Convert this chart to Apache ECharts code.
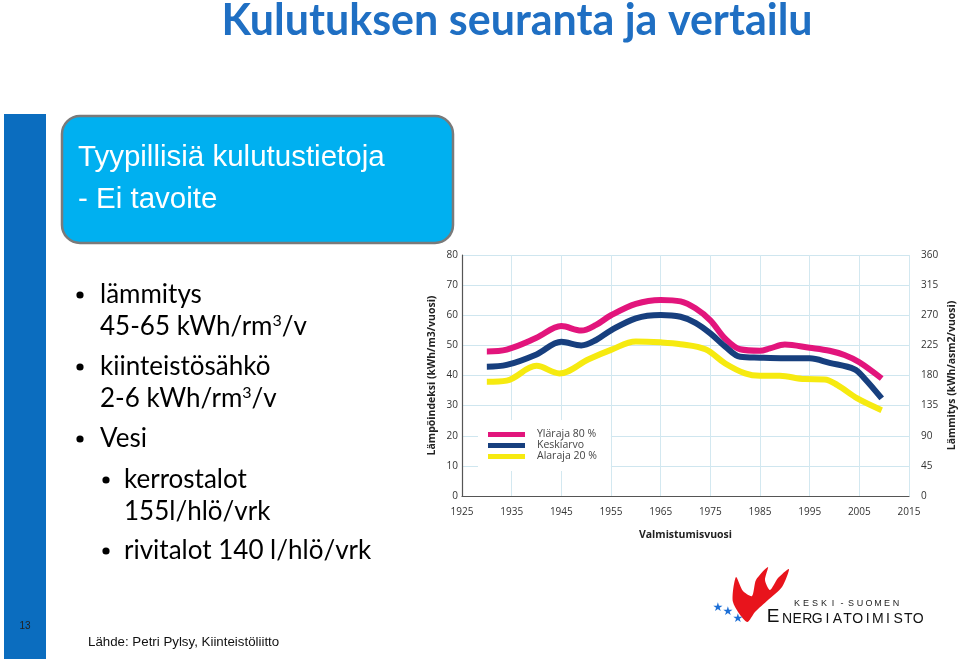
<!DOCTYPE html>
<html>
<head>
<meta charset="utf-8">
<script src="https://cdn.jsdelivr.net/npm/echarts@6/dist/echarts.min.js"></script>
<style>
html,body{margin:0;padding:0;background:#fff;}
#c{width:959px;height:659px;}
</style>
</head>
<body>
<div id="c"></div>
<script>
// ---- data ----
const seriesNames = ['Yläraja 80 %', 'Keskiarvo', 'Alaraja 20 %'];
const upperYears = [1930, 1934, 1940, 1945, 1949, 1952, 1955, 1960, 1965, 1969, 1972, 1975, 1978, 1981, 1985, 1987, 1990, 1995, 1999, 2002, 2005, 2009.5];
const upperVals  = [48.0, 48.6, 52.5, 56.4, 54.9, 56.8, 60.0, 63.8, 65.1, 64.6, 62.3, 58.3, 52.2, 48.7, 48.2, 49.0, 50.3, 49.2, 48.2, 46.8, 44.4, 39.0];
const meanYears  = [1930, 1934, 1940, 1945, 1949, 1952, 1955, 1960, 1965, 1969, 1972, 1975, 1978, 1981, 1985, 1990, 1995, 1999, 2004, 2006, 2009.5];
const meanVals   = [42.9, 43.5, 47.0, 51.2, 50.0, 51.8, 55.0, 59.0, 60.1, 59.5, 57.5, 54.0, 49.6, 46.2, 45.9, 45.7, 45.7, 44.2, 42.1, 39.1, 32.4];
const lowerYears = [1930, 1934, 1940, 1944.6, 1950.5, 1955, 1960, 1965, 1969, 1974, 1978, 1982, 1985, 1989, 1994, 1998, 2000.6, 2004.6, 2009.5];
const lowerVals  = [37.9, 38.3, 43.2, 40.7, 45.4, 48.5, 51.3, 51.0, 50.4, 48.7, 44.0, 40.7, 39.9, 39.9, 38.8, 38.7, 36.8, 32.4, 28.5];
const leftAxisRange  = [0, 80, 10];
const rightAxisRange = [0, 360, 45];
const xAxisRange     = [1925, 2015, 10];

const zip = (xs, ys) => xs.map((x, i) => [x, ys[i]]);
const colors = ['#e2157c', '#173f7e', '#f6ea10'];

const chart = echarts.init(document.getElementById('c'), null, {renderer: 'canvas'});

const tickFont = {fontFamily: 'Open Sans', fontSize: 10, color: '#333'};
const nameFont = {fontFamily: 'Open Sans', fontSize: 10.5, fontWeight: 'bold', color: '#222'};

// logo letters
const logoGraphics = [];
const keski = 'KESKI-SUOMEN';
for (let i = 0; i < keski.length; i++) {
  logoGraphics.push({type: 'text', x: 797 + i * 9.0, y: 604,
    style: {text: keski[i], fill: '#222', font: '9px "Liberation Sans"', textAlign: 'center', textVerticalAlign: 'middle'}});
}
const energ = 'NERGIATOIMISTO';
logoGraphics.push({type: 'text', x: 773, y: 617,
  style: {text: 'E', fill: '#111', font: '19px "Liberation Sans"', textAlign: 'center', textVerticalAlign: 'middle'}});
for (let i = 0; i < energ.length; i++) {
  logoGraphics.push({type: 'text', x: 787 + i * 10.1, y: 619,
    style: {text: energ[i], fill: '#111', font: '14px "Liberation Sans"', textAlign: 'center', textVerticalAlign: 'middle'}});
}

const bulletFont = '26px Lato';
const rich = {
  a: {fontFamily: 'Lato', fontSize: 26, fill: '#000', lineHeight: 29},
  s: {fontFamily: 'Lato', fontSize: 16, fill: '#000', verticalAlign: 'top', lineHeight: 16}
};
function btext(x, y, txt) {
  return {type: 'text', x: x, y: y, style: {text: txt, fill: '#000', font: bulletFont, textAlign: 'left', textVerticalAlign: 'middle'}};
}
function brich(x, y, txt) {
  return {type: 'text', x: x, y: y, style: {text: txt, rich: rich, textAlign: 'left', textVerticalAlign: 'middle'}};
}
function dot(x, y) {
  return {type: 'circle', shape: {cx: x, cy: y, r: 3.6}, style: {fill: '#000'}};
}

const option = {
  backgroundColor: '#fff',
  animation: false,
  grid: {left: 462, right: 47, top: 255, bottom: 163, containLabel: false},
  legend: {
    data: seriesNames, orient: 'vertical', left: 478, top: 420,
    icon: 'rect', itemWidth: 37, itemHeight: 5, itemGap: 0,
    backgroundColor: '#fff', padding: [9, 14, 9, 10],
    textStyle: {fontFamily: 'Open Sans', fontSize: 10.5, lineHeight: 11, color: '#444', padding: [0, 0, 0, 7]}
  },
  xAxis: {
    type: 'value', min: xAxisRange[0], max: xAxisRange[1], interval: xAxisRange[2],
    name: 'Valmistumisvuosi', nameLocation: 'middle', nameGap: 34, nameTextStyle: nameFont,
    axisLine: {show: true, lineStyle: {color: '#555', width: 1.2}},
    axisTick: {show: false},
    axisLabel: Object.assign({margin: 11, formatter: v => String(v)}, tickFont),
    splitLine: {show: true, lineStyle: {color: '#d3e8f0', width: 1}}
  },
  yAxis: [
    {
      type: 'value', min: leftAxisRange[0], max: leftAxisRange[1], interval: leftAxisRange[2], position: 'left',
      name: 'Lämpöindeksi (kWh/m3/vuosi)', nameLocation: 'middle', nameGap: 24, nameRotate: 90, nameTextStyle: nameFont,
      axisLine: {show: true, lineStyle: {color: '#555', width: 1.2}},
      axisTick: {show: false},
      axisLabel: Object.assign({margin: 4}, tickFont),
      splitLine: {show: true, lineStyle: {color: '#cfe6ef', width: 1.2}}
    },
    {
      type: 'value', min: rightAxisRange[0], max: rightAxisRange[1], interval: rightAxisRange[2], position: 'right',
      name: 'Lämmitys (kWh/asm2/vuosi)', nameLocation: 'middle', nameGap: 38, nameRotate: 90, nameTextStyle: nameFont,
      axisLine: {show: false}, axisTick: {show: false},
      axisLabel: Object.assign({margin: 12}, tickFont),
      splitLine: {show: false}
    }
  ],
  series: [
    {name: seriesNames[0], type: 'line', smooth: 0.35, showSymbol: false, yAxisIndex: 0,
     data: zip(upperYears, upperVals), itemStyle: {color: colors[0]}, lineStyle: {color: colors[0], width: 6}},
    {name: seriesNames[1], type: 'line', smooth: 0.35, showSymbol: false, yAxisIndex: 0,
     data: zip(meanYears, meanVals), itemStyle: {color: colors[1]}, lineStyle: {color: colors[1], width: 6}},
    {name: seriesNames[2], type: 'line', smooth: 0.35, showSymbol: false, yAxisIndex: 0,
     data: zip(lowerYears, lowerVals), itemStyle: {color: colors[2]}, lineStyle: {color: colors[2], width: 6}}
  ],
  graphic: [
    {type: 'text', x: 517, y: 21, style: {text: 'Kulutuksen seuranta ja vertailu', fill: '#1f6fc3',
      font: 'bold 43px Lato', textAlign: 'center', textVerticalAlign: 'middle'}},
    {type: 'rect', shape: {x: 4, y: 114, width: 42, height: 545}, style: {fill: '#0b6dbf'}},
    {type: 'text', x: 25, y: 626, style: {text: '13', fill: '#222', font: '10px "Liberation Sans"', textAlign: 'center', textVerticalAlign: 'middle'}},
    {type: 'rect', shape: {x: 62, y: 116, width: 391, height: 127, r: 18}, style: {fill: '#00b0f0', stroke: '#7a7a7a', lineWidth: 2.5}},
    {type: 'text', x: 78, y: 158, style: {text: 'Tyypillisiä kulutustietoja', fill: '#fff', font: '29.5px "Liberation Sans"', textAlign: 'left', textVerticalAlign: 'middle'}},
    {type: 'text', x: 78, y: 200, style: {text: '- Ei tavoite', fill: '#fff', font: '29.5px "Liberation Sans"', textAlign: 'left', textVerticalAlign: 'middle'}},
    dot(80, 295), btext(100, 295, 'lämmitys'),
    brich(100, 327, '{a|45-65 kWh/rm}{s|3}{a|/v}'),
    dot(80, 367), btext(100, 367, 'kiinteistösähkö'),
    brich(100, 399, '{a|2-6 kWh/rm}{s|3}{a|/v}'),
    dot(80, 439), btext(100, 439, 'Vesi'),
    dot(106, 480), btext(124, 480, 'kerrostalot'),
    btext(124, 512, '155l/hlö/vrk'),
    dot(106, 551), btext(124, 551, 'rivitalot 140 l/hlö/vrk'),
    {type: 'text', x: 88, y: 642, style: {text: 'Lähde: Petri Pylsy, Kiinteistöliitto', fill: '#111', font: '13.3px "Liberation Sans"', textAlign: 'left', textVerticalAlign: 'middle'}},
    {type: 'polygon', shape: {smooth: 0.25, points: [[747, 622], [733, 602], [736, 577], [743, 591], [752, 596], [756, 580], [768, 567], [765, 580], [770, 590], [778, 578], [789, 569], [782, 587], [768, 600], [755, 612]]},
      style: {fill: '#e8141c'}},
    {type: 'text', x: 718, y: 608, style: {text: '★', fill: '#1d6fd6', font: '12px "DejaVu Sans"', textAlign: 'center', textVerticalAlign: 'middle'}},
    {type: 'text', x: 728, y: 612, style: {text: '★', fill: '#1d6fd6', font: '12px "DejaVu Sans"', textAlign: 'center', textVerticalAlign: 'middle'}},
    {type: 'text', x: 738, y: 619, style: {text: '★', fill: '#1d6fd6', font: '12px "DejaVu Sans"', textAlign: 'center', textVerticalAlign: 'middle'}}
  ].concat(logoGraphics)
};
chart.setOption(option);
</script>
</body>
</html>
